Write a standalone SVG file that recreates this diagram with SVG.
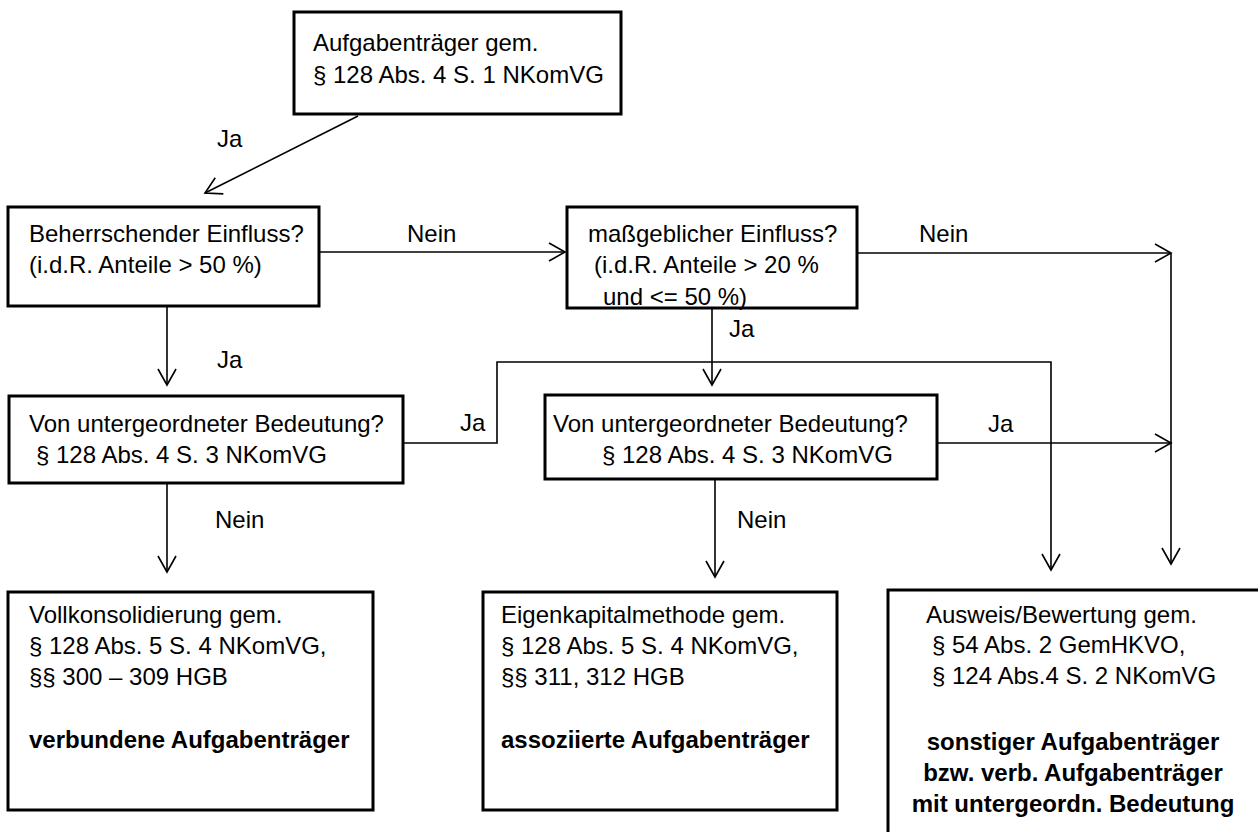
<svg xmlns="http://www.w3.org/2000/svg" width="1258" height="832" viewBox="0 0 1258 832">
<style>
  .box { fill: #fff; stroke: #000; stroke-width: 3; }
  .t { font-family: "Liberation Sans", Arial, sans-serif; font-size: 24px; fill: #000; }
  .b { font-weight: bold; }
  .c { fill: none; stroke: #000; stroke-width: 1.6; }
</style>
<defs>
  <marker id="arr" viewBox="0 0 20 20" refX="18" refY="10" markerWidth="20" markerHeight="20" markerUnits="userSpaceOnUse" orient="auto">
    <path d="M2,1 L18,10 L2,19" fill="none" stroke="#000" stroke-width="1.6"/>
  </marker>
</defs>
<rect width="1258" height="832" fill="#fff"/>

<g id="connectors">
  <path class="c" d="M358,116 L205,193" marker-end="url(#arr)"/>
  <path class="c" d="M319,252 L565,252" marker-end="url(#arr)"/>
  <path class="c" d="M857,253 L1171,253" marker-end="url(#arr)"/>
  <path class="c" d="M1171,253 L1171,564" marker-end="url(#arr)"/>
  <path class="c" d="M167,306 L167,385" marker-end="url(#arr)"/>
  <path class="c" d="M712,308 L712,385" marker-end="url(#arr)"/>
  <path class="c" d="M403,443 L497,443 L497,362 L1051,362 L1051,570" marker-end="url(#arr)"/>
  <path class="c" d="M937,443 L1171,443" marker-end="url(#arr)"/>
  <path class="c" d="M167,483 L167,572" marker-end="url(#arr)"/>
  <path class="c" d="M715,478 L715,577" marker-end="url(#arr)"/>
  <text class="t" x="217" y="147">Ja</text>
  <text class="t" x="407" y="242">Nein</text>
  <text class="t" x="919" y="242">Nein</text>
  <text class="t" x="217" y="368">Ja</text>
  <text class="t" x="729" y="337">Ja</text>
  <text class="t" x="460" y="431">Ja</text>
  <text class="t" x="988" y="432">Ja</text>
  <text class="t" x="215" y="528">Nein</text>
  <text class="t" x="737" y="528">Nein</text>
</g>

<g id="n-start">
  <rect class="box" x="294" y="12" width="327" height="102"/>
  <text class="t" x="313" y="51">Aufgabenträger gem.</text>
  <text class="t" x="313" y="83">§ 128 Abs. 4 S. 1 NKomVG</text>
</g>

<g id="n-beherrschend">
  <rect class="box" x="8" y="207" width="311" height="99"/>
  <text class="t" x="29" y="242">Beherrschender Einfluss?</text>
  <text class="t" x="29" y="273">(i.d.R. Anteile &gt; 50 %)</text>
</g>

<g id="n-massgeblich">
  <rect class="box" x="567" y="207" width="290" height="101"/>
  <text class="t" x="588" y="242">maßgeblicher Einfluss?</text>
  <text class="t" x="594" y="273">(i.d.R. Anteile &gt; 20 %</text>
  <text class="t" x="603" y="305">und &lt;= 50 %)</text>
</g>

<g id="n-untergeordnet1">
  <rect class="box" x="9" y="396" width="394" height="87"/>
  <text class="t" x="29" y="432">Von untergeordneter Bedeutung?</text>
  <text class="t" x="36" y="463">§ 128 Abs. 4 S. 3 NKomVG</text>
</g>

<g id="n-untergeordnet2">
  <rect class="box" x="545" y="395" width="392" height="84"/>
  <text class="t" x="553" y="432">Von untergeordneter Bedeutung?</text>
  <text class="t" x="602" y="463">§ 128 Abs. 4 S. 3 NKomVG</text>
</g>

<g id="n-voll">
  <rect class="box" x="8" y="592" width="365" height="218"/>
  <text class="t" x="29" y="623">Vollkonsolidierung gem.</text>
  <text class="t" x="29" y="654">§ 128 Abs. 5 S. 4 NKomVG,</text>
  <text class="t" x="29" y="685">§§ 300 – 309 HGB</text>
  <text class="t b" x="29" y="748">verbundene Aufgabenträger</text>
</g>

<g id="n-eigenkapital">
  <rect class="box" x="483" y="592" width="354" height="218"/>
  <text class="t" x="501" y="623">Eigenkapitalmethode gem.</text>
  <text class="t" x="501" y="654">§ 128 Abs. 5 S. 4 NKomVG,</text>
  <text class="t" x="501" y="685">§§ 311, 312 HGB</text>
  <text class="t b" x="501" y="748">assoziierte Aufgabenträger</text>
</g>

<g id="n-sonstige">
  <rect class="box" x="888" y="590" width="380" height="260"/>
  <text class="t" x="926" y="623">Ausweis/Bewertung gem.</text>
  <text class="t" x="932" y="653">§ 54 Abs. 2 GemHKVO,</text>
  <text class="t" x="932" y="684">§ 124 Abs.4 S. 2 NKomVG</text>
  <text class="t b" x="1073" y="750" text-anchor="middle">sonstiger Aufgabenträger</text>
  <text class="t b" x="1073" y="781" text-anchor="middle">bzw. verb. Aufgabenträger</text>
  <text class="t b" x="1073" y="812" text-anchor="middle">mit untergeordn. Bedeutung</text>
</g>
</svg>
